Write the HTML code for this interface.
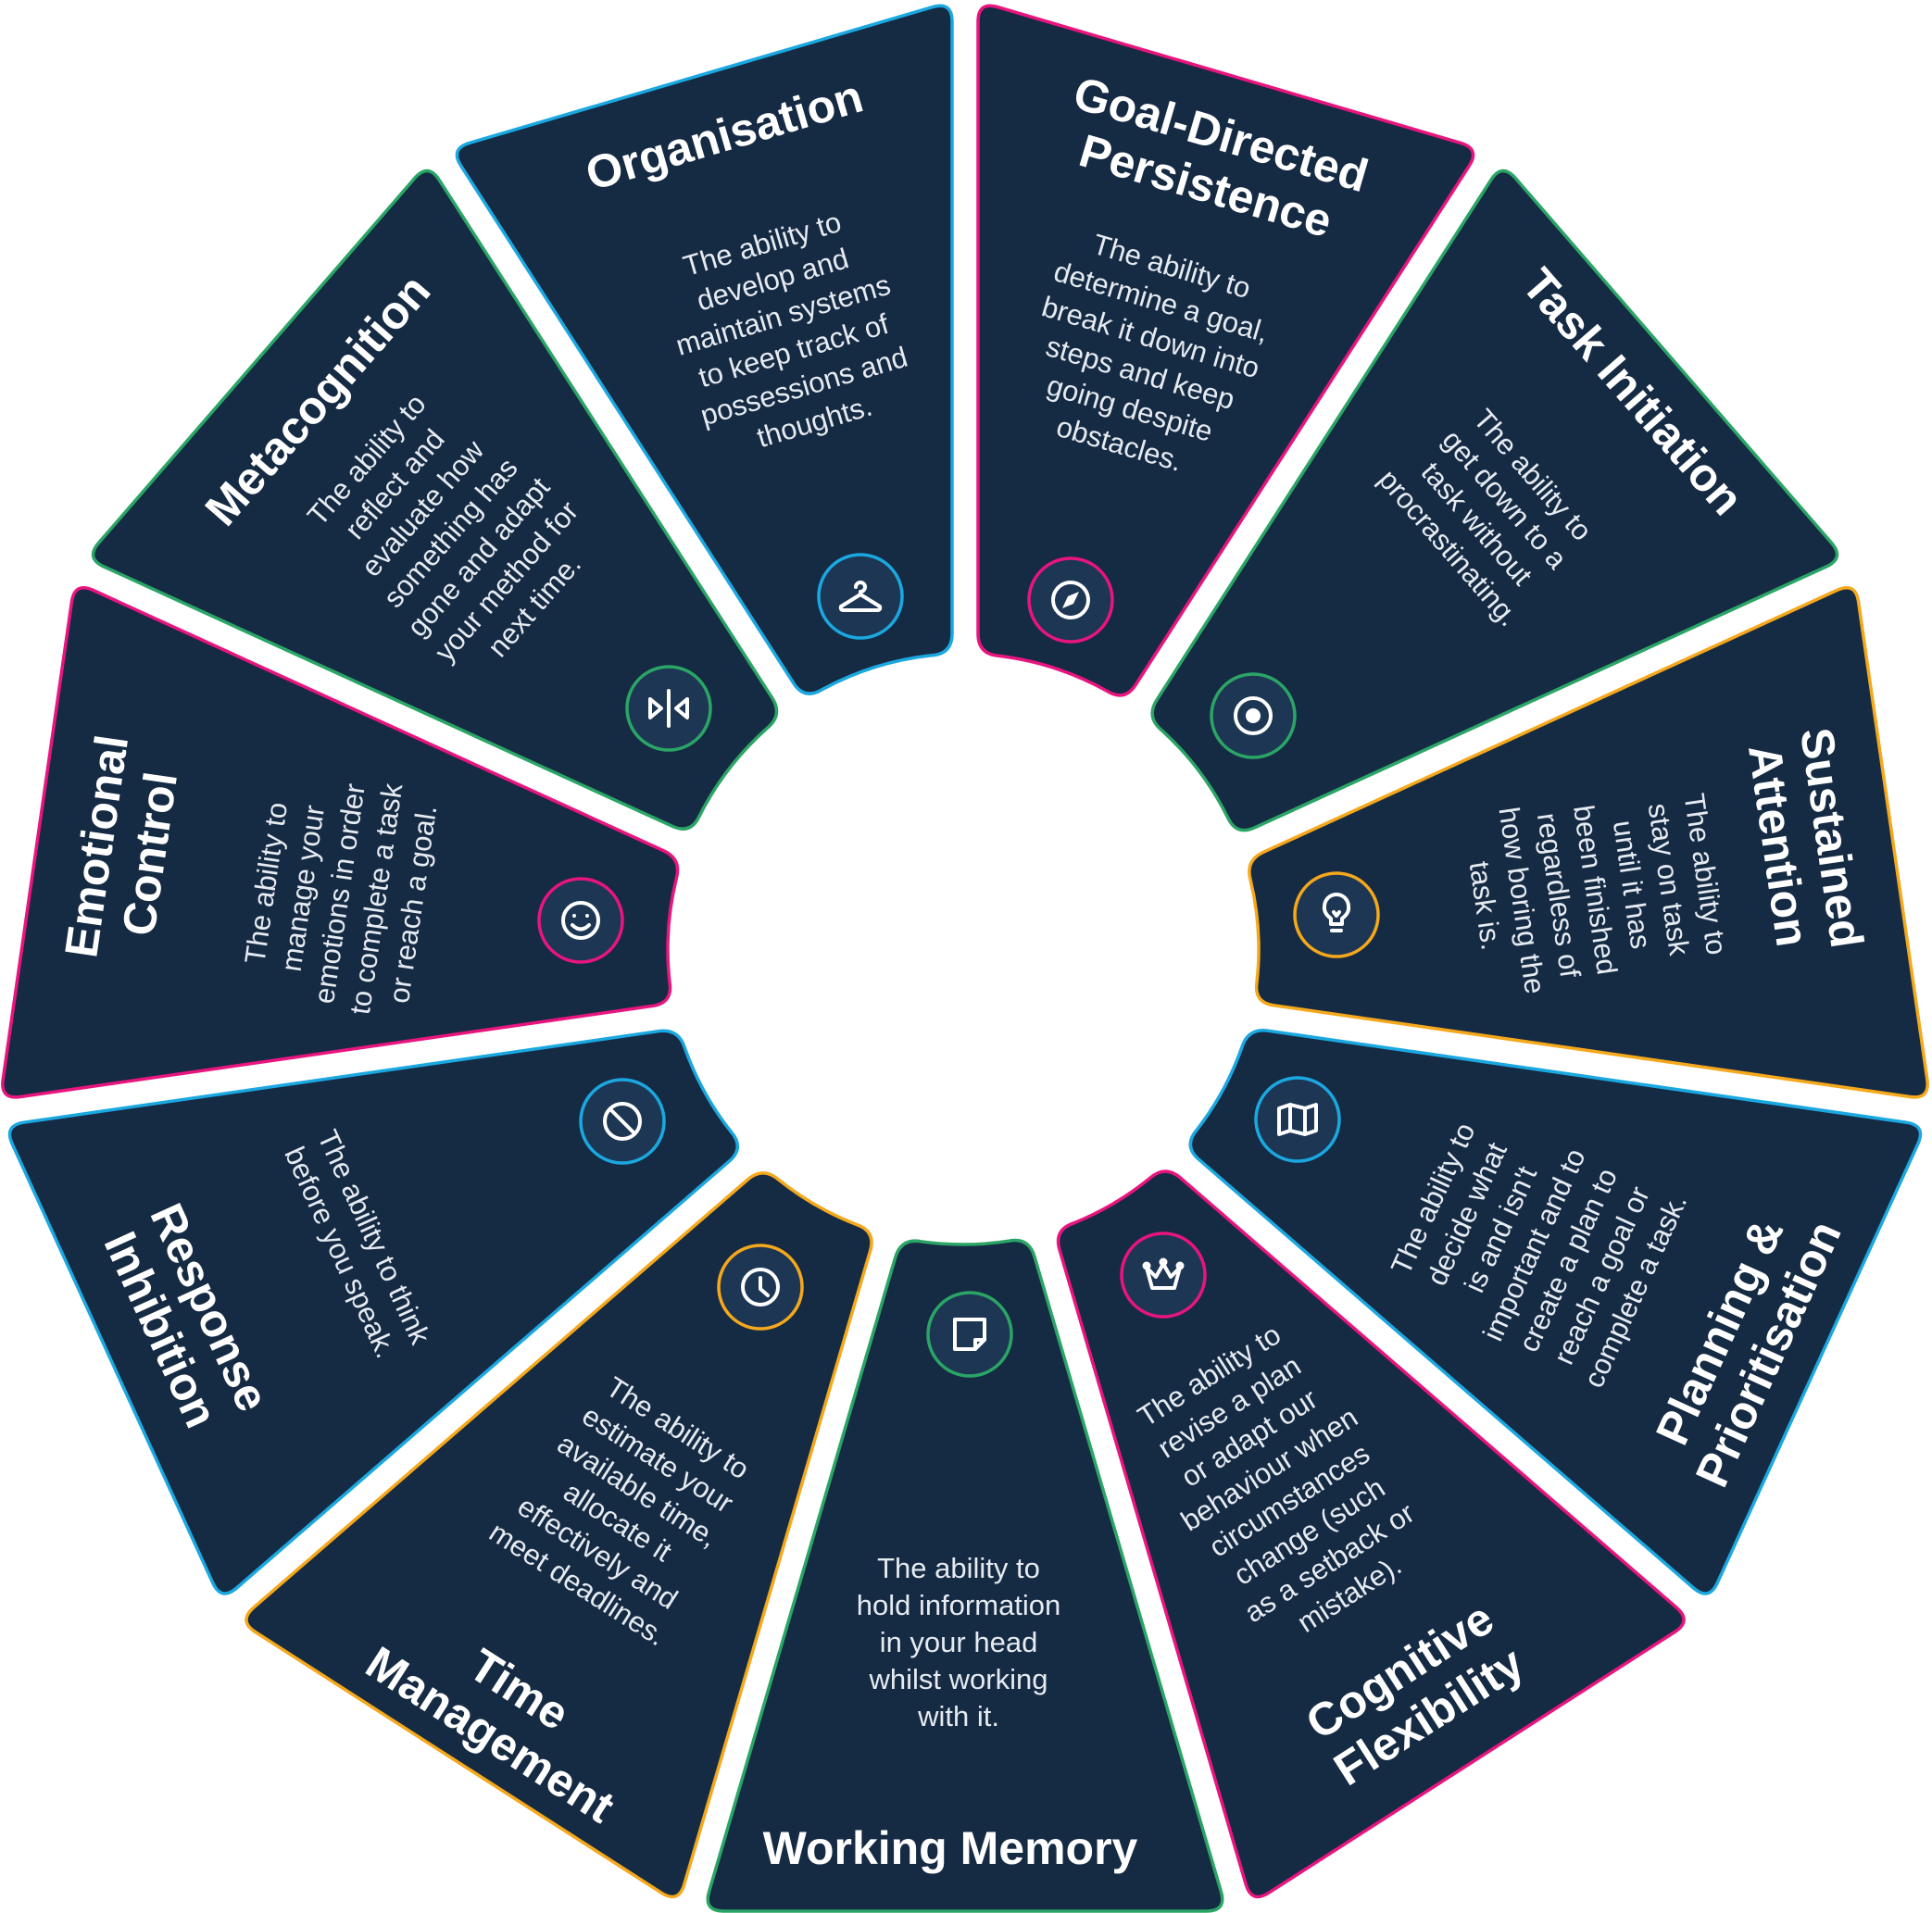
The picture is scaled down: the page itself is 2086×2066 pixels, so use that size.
<!DOCTYPE html>
<html><head><meta charset="utf-8">
<style>
html,body{margin:0;padding:0;background:#fff;}
svg{display:block;}
.t{font-family:"Liberation Sans",sans-serif;font-weight:bold;font-size:50px;fill:#fff;text-anchor:middle;}
.d{font-family:"Liberation Sans",sans-serif;font-size:31px;fill:#e6ebf1;text-anchor:middle;}
.ic{fill:#1c3654;stroke-width:3.5;}
.g{fill:none;stroke:#fff;stroke-width:4;stroke-linecap:round;stroke-linejoin:round;}
</style></head>
<body>
<svg id="s" width="2086" height="2066" viewBox="0 0 2086 2066" xmlns="http://www.w3.org/2000/svg">
<g id="segs"></g>

<g transform="translate(1035,1773)"><text class="d" y="-69">The ability to</text><text class="d" y="-29">hold information</text><text class="d" y="11">in your head</text><text class="d" y="51">whilst working</text><text class="d" y="91">with it.</text></g>
<g transform="translate(1026,1996)"><text class="t" y="17">Working Memory</text></g>

<g transform="translate(678,1626) rotate(32.7)"><text class="d" y="-89">The ability to</text><text class="d" y="-49">estimate your</text><text class="d" y="-9">available time,</text><text class="d" y="31">allocate it</text><text class="d" y="71">effectively and</text><text class="d" y="111">meet deadlines.</text></g>
<g transform="translate(545,1849) rotate(32.7)"><text class="t" y="-12">Time</text><text class="t" y="46">Management</text></g>

<g transform="translate(386,1344) rotate(65.5)"><text class="d" y="-9">The ability to think</text><text class="d" y="31">before you speak.</text></g>
<g transform="translate(200,1424) rotate(65.5)"><text class="t" y="-12">Response</text><text class="t" y="46">Inhibition</text></g>

<g transform="translate(366,965) rotate(-81.8)"><text class="d" y="-69">The ability to</text><text class="d" y="-29">manage your</text><text class="d" y="11">emotions in order</text><text class="d" y="51">to complete a task</text><text class="d" y="91">or reach a goal.</text></g>
<g transform="translate(133,918) rotate(-81.8)"><text class="t" y="-12">Emotional</text><text class="t" y="46">Control</text></g>

<g transform="translate(486,575) rotate(-49)"><text class="d" y="-109">The ability to</text><text class="d" y="-69">reflect and</text><text class="d" y="-29">evaluate how</text><text class="d" y="11">something has</text><text class="d" y="51">gone and adapt</text><text class="d" y="91">your method for</text><text class="d" y="131">next time.</text></g>
<g transform="translate(343,432) rotate(-49)"><text class="t" y="17">Metacognition</text></g>

<g transform="translate(851,359) rotate(-16.4)"><text class="d" y="-89">The ability to</text><text class="d" y="-49">develop and</text><text class="d" y="-9">maintain systems</text><text class="d" y="31">to keep track of</text><text class="d" y="71">possessions and</text><text class="d" y="111">thoughts.</text></g>
<g transform="translate(782,146) rotate(-16.4)"><text class="t" y="17">Organisation</text></g>

<g transform="translate(1237,383) rotate(16.4)"><text class="d" y="-89">The ability to</text><text class="d" y="-49">determine a goal,</text><text class="d" y="-9">break it down into</text><text class="d" y="31">steps and keep</text><text class="d" y="71">going despite</text><text class="d" y="111">obstacles.</text></g>
<g transform="translate(1310,173) rotate(16.4)"><text class="t" y="-12">Goal-Directed</text><text class="t" y="46">Persistence</text></g>

<g transform="translate(1610,552) rotate(49)"><text class="d" y="-49">The ability to</text><text class="d" y="-9">get down to a</text><text class="d" y="31">task without</text><text class="d" y="71">procrastinating.</text></g>
<g transform="translate(1763,423) rotate(49)"><text class="t" y="17">Task Initiation</text></g>

<g transform="translate(1723,961) rotate(81.8)"><text class="d" y="-109">The ability to</text><text class="d" y="-69">stay on task</text><text class="d" y="-29">until it has</text><text class="d" y="11">been finished</text><text class="d" y="51">regardless of</text><text class="d" y="91">how boring the</text><text class="d" y="131">task is.</text></g>
<g transform="translate(1949,909) rotate(81.8)"><text class="t" y="-12">Sustained</text><text class="t" y="46">Attention</text></g>

<g transform="translate(1656,1344) rotate(-65.5)"><text class="d" y="-109">The ability to</text><text class="d" y="-69">decide what</text><text class="d" y="-29">is and isn't</text><text class="d" y="11">important and to</text><text class="d" y="51">create a plan to</text><text class="d" y="91">reach a goal or</text><text class="d" y="131">complete a task.</text></g>
<g transform="translate(1883,1450) rotate(-65.5)"><text class="t" y="-12">Planning &amp;</text><text class="t" y="46">Prioritisation</text></g>

<g transform="translate(1381,1603) rotate(-32.7)"><text class="d" y="-129">The ability to</text><text class="d" y="-89">revise a plan</text><text class="d" y="-49">or adapt our</text><text class="d" y="-9">behaviour when</text><text class="d" y="31">circumstances</text><text class="d" y="71">change (such</text><text class="d" y="111">as a setback or</text><text class="d" y="151">mistake).</text></g>
<g transform="translate(1527,1829) rotate(-32.7)"><text class="t" y="-12">Cognitive</text><text class="t" y="46">Flexibility</text></g>

<g transform="translate(1047,1441)"><circle class="ic" r="45" stroke="#2ba566"/><path class="g" d="M-16,-16 H16 V6 L6,16 H-16 Z M16,6 H6 V16"/></g>
<g transform="translate(821,1390)"><circle class="ic" r="45" stroke="#f5a81c"/><circle class="g" r="19"/><path class="g" d="M0,-10 V2 L8,9"/></g>
<g transform="translate(672,1211)"><circle class="ic" r="45" stroke="#1ba8e0"/><circle class="g" r="19"/><path class="g" d="M-13,-13 L13,13"/></g>
<g transform="translate(627,994)"><circle class="ic" r="45" stroke="#e8157f"/><circle class="g" r="19"/><path class="g" d="M-9,5 Q0,14 9,5"/><circle cx="-7" cy="-5" r="2" fill="#fff"/><circle cx="7" cy="-5" r="2" fill="#fff"/></g>
<g transform="translate(722,765)"><circle class="ic" r="45" stroke="#2ba566"/><path class="g" d="M0,-19 V19 M-20,-10 L-8,0 L-20,10 Z M20,-10 L8,0 L20,10 Z"/></g>
<g transform="translate(929,644)"><circle class="ic" r="45" stroke="#1ba8e0"/><path class="g" d="M-5,-10 A5,5 0 1 1 0,-5 V-2 L21,11 Q22,15 18,15 H-18 Q-22,15 -21,11 L0,-2"/></g>
<g transform="translate(1156,648)"><circle class="ic" r="45" stroke="#e8157f"/><circle class="g" r="19"/><path d="M9,-9 L3,4 L-9,9 L-3,-4 Z" fill="#fff"/></g>
<g transform="translate(1353,773)"><circle class="ic" r="45" stroke="#2ba566"/><circle class="g" r="19"/><circle r="8" fill="#fff"/></g>
<g transform="translate(1443,988)"><circle class="ic" r="45" stroke="#f5a81c"/><path class="g" d="M-6,10 V4 Q-14,-2 -13,-9 A13,13 0 0 1 13,-9 Q14,-2 6,4 V10 Z M-5,17 H5 M-3,-3 L0,1 L3,-3"/></g>
<g transform="translate(1401,1209)"><circle class="ic" r="45" stroke="#1ba8e0"/><path class="g" d="M-20,-12 L-8,-16 L8,-12 L20,-16 V12 L8,16 L-8,12 L-20,16 Z M-8,-16 V12 M8,-12 V16"/></g>
<g transform="translate(1256,1377)"><circle class="ic" r="45" stroke="#e8157f"/><path class="g" d="M-18,-8 L-12,14 H12 L18,-8 L8,2 L0,-12 L-8,2 Z"/><circle class="g" cx="-18" cy="-10" r="2.5"/><circle class="g" cx="18" cy="-10" r="2.5"/><circle class="g" cx="0" cy="-14" r="2.5"/></g>
</svg>
<script>
(function(){
var C={x:1042,y:1052},A=1012,g=14,E={x:1040,y:1025,rx:319,ry:319},R=22;
var al=Math.PI/11;
var cols=["#2ba566","#f5a81c","#1ba8e0","#e8157f","#2ba566","#1ba8e0","#e8157f","#2ba566","#f5a81c","#1ba8e0","#e8157f"];
function u(a){return {x:Math.cos(a),y:Math.sin(a)};}
function add(p,q,s){return {x:p.x+q.x*s,y:p.y+q.y*s};}
function sub(p,q){return {x:p.x-q.x,y:p.y-q.y};}
function nrm(p){var l=Math.hypot(p.x,p.y);return {x:p.x/l,y:p.y/l};}
function f(p){return p.x.toFixed(1)+","+p.y.toFixed(1);}
function side(th,sgn){
 var b=th+sgn*al; var d=u(b); var n=u(b-sgn*Math.PI/2);
 var base=add(C,n,g);
 var to=(A-g*Math.sin(al))/Math.cos(al);
 var outer=add(base,d,to);
 var qx=base.x-E.x,qy=base.y-E.y;
 var a2=(d.x*d.x)/(E.rx*E.rx)+(d.y*d.y)/(E.ry*E.ry);
 var b2=2*(qx*d.x/(E.rx*E.rx)+qy*d.y/(E.ry*E.ry));
 var c2=(qx*qx)/(E.rx*E.rx)+(qy*qy)/(E.ry*E.ry)-1;
 var t=(-b2+Math.sqrt(b2*b2-4*a2*c2))/(2*a2);
 return {inner:add(base,d,t),outer:outer};
}
function ephi(p){return Math.atan2((p.y-E.y)/E.ry,(p.x-E.x)/E.rx);}
function ept(ph){return {x:E.x+E.rx*Math.cos(ph),y:E.y+E.ry*Math.sin(ph)};}
var out="";
for(var k=0;k<11;k++){
 var th=Math.PI/2+k*2*Math.PI/11;
 var s1=side(th,-1),s2=side(th,1);
 var P1=s1.inner,P2=s1.outer,P3=s2.outer,P4=s2.inner;
 var d12=nrm(sub(P2,P1)),d23=nrm(sub(P3,P2)),d34=nrm(sub(P4,P3));
 var f1=ephi(P1),f4=ephi(P4);
 while(f4<f1)f4+=2*Math.PI;
 var dl=R/319;
 var E4=ept(f4-dl),E1=ept(f1+dl);
 var S1=add(P1,d12,R);
 var p="M"+f(S1)+" L"+f(add(P2,d12,-R))+" Q"+f(P2)+" "+f(add(P2,d23,R))+
  " L"+f(add(P3,d23,-R))+" Q"+f(P3)+" "+f(add(P3,d34,R))+
  " L"+f(add(P4,d34,-R))+" Q"+f(P4)+" "+f(E4)+
  " A"+E.rx+","+E.ry+" 0 0 0 "+f(E1)+" Q"+f(P1)+" "+f(S1)+" Z";
 out+='<path d="'+p+'" fill="#152a43" stroke="'+cols[k]+'" stroke-width="3.5" stroke-linejoin="round"/>';
}
document.getElementById("segs").innerHTML=out;
})();
</script>
</body></html>
